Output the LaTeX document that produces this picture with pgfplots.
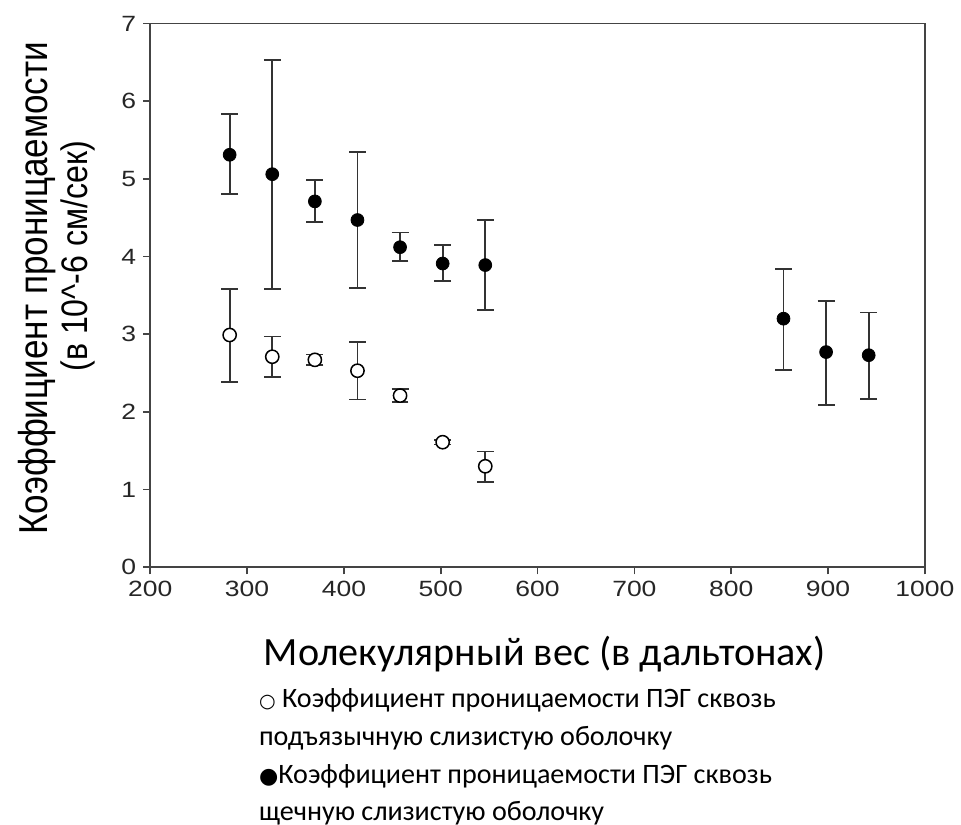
\documentclass[border=0pt]{standalone}
\usepackage{pgfplots}
\pgfplotsset{compat=1.18}
\usepackage{pgfplotstable}
\usepackage{fontspec}
\setmainfont{Liberation Sans}
\newfontfamily\calibri{Carlito}
\newfontfamily\symb{DejaVu Sans}
\definecolor{axgray}{HTML}{444444}
\definecolor{errgray}{HTML}{333333}

\pgfplotstableread{
x   y     ep    em
282 5.31  0.52  0.51
326 5.06  1.47  1.48
370 4.71  0.28  0.27
414 4.47  0.88  0.88
458 4.12  0.19  0.18
502 3.91  0.24  0.22
546 3.89  0.58  0.58
854 3.20  0.64  0.66
898 2.77  0.66  0.68
942 2.73  0.55  0.56
}\buccal

\pgfplotstableread{
x   y     ep    em
282 2.99  0.59  0.60
326 2.71  0.26  0.26
370 2.67  0.07  0.07
414 2.53  0.37  0.37
458 2.21  0.08  0.08
502 1.61  0.03  0.03
546 1.30  0.19  0.20
}\sublingual

\begin{document}
\begin{tikzpicture}
\begin{axis}[
  scale only axis,
  width=386pt, height=271pt,
  xmin=200, xmax=1000, ymin=0, ymax=7,
  xtick={200,300,...,1000},
  ytick={0,1,...,7},
  xtick pos=left, ytick pos=left,
  tick align=outside,
  major tick length=3.5pt,
  axis line style={axgray, line width=0.8pt},
  every tick/.style={axgray, line width=0.8pt},
  /pgf/number format/assume math mode=true,
  /pgf/number format/1000 sep={},
  tick label style={font=\fontsize{11}{13}\selectfont, text=black!85},
  xticklabel={\scalebox{1.2}[1]{\pgfmathprintnumber{\tick}}},
  yticklabel={\scalebox{1.2}[1]{\pgfmathprintnumber{\tick}}},
  xlabel={\calibri Молекулярный вес (в дальтонах)},
  xlabel style={font=\fontsize{20}{24}\selectfont, at={(rel axis cs:0.509,-0.16)}, anchor=center},
  clip=false,
]
\addplot[only marks, mark=*, mark size=3.2pt, mark options={fill=black, draw=black},
  error bars/.cd, y dir=both, y explicit,
  error bar style={errgray, line width=0.9pt},
  error mark options={rotate=90, mark size=4.2pt, line width=0.9pt, errgray}]
  table[x=x, y=y, y error plus=ep, y error minus=em] {\buccal};
\addplot[only marks, mark=*, mark size=3.3pt, mark options={fill=white, draw=black, line width=0.75pt},
  error bars/.cd, y dir=both, y explicit,
  error bar style={errgray, line width=0.9pt},
  error mark options={rotate=90, mark size=4.2pt, line width=0.9pt, errgray}]
  table[x=x, y=y, y error plus=ep, y error minus=em] {\sublingual};
\path (rel axis cs:-0.194,0.5) (rel axis cs:0.5,1) ++(0pt,11.7pt);
\node[rotate=90, anchor=base, inner sep=0pt, font=\fontsize{17.5}{20}\selectfont] at (rel axis cs:-0.133,0.513) {\scalebox{1}[1.15]{Коэффициент проницаемости}};
\node[rotate=90, anchor=base, inner sep=0pt, font=\fontsize{16}{20}\selectfont] at (rel axis cs:-0.081,0.572) {\scalebox{1}[1.15]{(в 10\^{}-6 см/сек)}};
\node[anchor=base west, font=\calibri\fontsize{14}{17}\selectfont, inner sep=0pt] at (rel axis cs:0.14,-0.258) {{\symb\fontsize{9.5}{10}\selectfont ○}\ Коэффициент проницаемости ПЭГ сквозь};
\node[anchor=base west, font=\calibri\fontsize{14}{17}\selectfont, inner sep=0pt] at (rel axis cs:0.14,-0.327) {подъязычную слизистую оболочку};
\node[anchor=base west, font=\calibri\fontsize{14}{17}\selectfont, inner sep=0pt] at (rel axis cs:0.14,-0.397) {{\symb\fontsize{11}{10}\selectfont ●}Коэффициент проницаемости ПЭГ сквозь};
\node[anchor=base west, font=\calibri\fontsize{14}{17}\selectfont, inner sep=0pt] at (rel axis cs:0.14,-0.465) {щечную слизистую оболочку};
\end{axis}
\end{tikzpicture}
\end{document}
